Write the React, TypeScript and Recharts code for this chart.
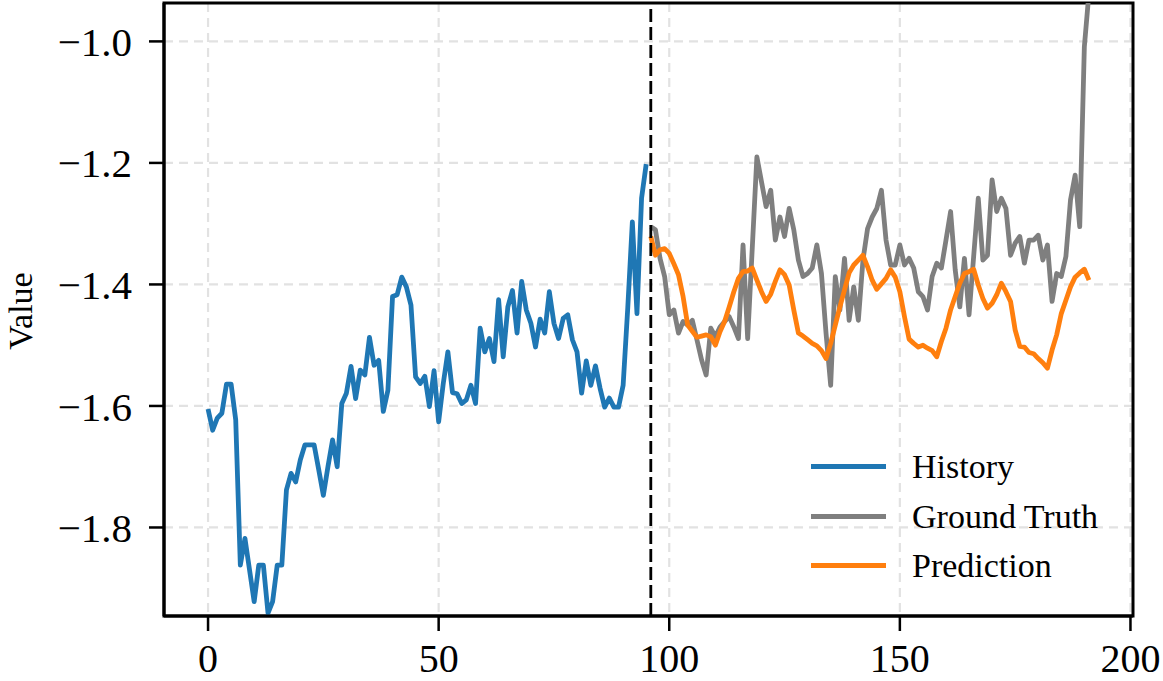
import {
  LineChart,
  Line,
  XAxis,
  YAxis,
  CartesianGrid,
  ReferenceLine,
  ReferenceArea,
  Legend,
} from "recharts";

const FONT = '"Liberation Serif", "Times New Roman", Times, serif';

// time steps 0..95 are history, 96..191 are the forecast horizon
const HISTORY_LEN = 96;

const history = [
  -1.605, -1.64, -1.62, -1.612, -1.564, -1.564, -1.623, -1.862, -1.818, -1.87,
  -1.922, -1.862, -1.862, -1.941, -1.922, -1.862, -1.862, -1.738, -1.711, -1.725,
  -1.689, -1.664, -1.664, -1.664, -1.705, -1.747, -1.7, -1.656, -1.7, -1.596,
  -1.579, -1.535, -1.588, -1.541, -1.549, -1.487, -1.533, -1.525, -1.609, -1.574,
  -1.42, -1.417, -1.388, -1.404, -1.434, -1.552, -1.563, -1.551, -1.601, -1.542,
  -1.626, -1.563, -1.511, -1.578, -1.58, -1.596, -1.59, -1.566, -1.596, -1.472,
  -1.511, -1.489, -1.527, -1.425, -1.519, -1.437, -1.41, -1.48, -1.395, -1.442,
  -1.464, -1.503, -1.457, -1.48, -1.412, -1.464, -1.489, -1.456, -1.45, -1.491,
  -1.511, -1.579, -1.526, -1.566, -1.534, -1.571, -1.602, -1.587, -1.602, -1.602,
  -1.566, -1.439, -1.297, -1.448, -1.258, -1.202,
];

const groundTruth = [
  -1.305, -1.31, -1.357, -1.387, -1.45, -1.442, -1.48, -1.461, -1.467, -1.459,
  -1.491, -1.524, -1.549, -1.472, -1.486, -1.47, -1.461, -1.453, -1.47, -1.489,
  -1.335, -1.489, -1.34, -1.19, -1.231, -1.272, -1.245, -1.327, -1.289, -1.321,
  -1.275, -1.31, -1.36, -1.387, -1.382, -1.373, -1.335, -1.382, -1.481, -1.566,
  -1.387, -1.442, -1.357, -1.459, -1.404, -1.459, -1.36, -1.308, -1.289, -1.275,
  -1.245, -1.327, -1.368, -1.368, -1.335, -1.368, -1.357, -1.373, -1.412, -1.42,
  -1.442, -1.387, -1.365, -1.373, -1.327, -1.28, -1.376, -1.437, -1.357, -1.45,
  -1.354, -1.258, -1.36, -1.352, -1.228, -1.28, -1.258, -1.275, -1.352, -1.332,
  -1.321, -1.365, -1.327, -1.327, -1.319, -1.36, -1.335, -1.428, -1.382, -1.387,
  -1.354, -1.261, -1.22, -1.305, -1.009, -0.92,
];

const prediction = [
  -1.321, -1.352, -1.343, -1.341, -1.349, -1.366, -1.384, -1.42, -1.467, -1.477,
  -1.487, -1.485, -1.483, -1.486, -1.5, -1.478, -1.461, -1.437, -1.412, -1.39,
  -1.379, -1.378, -1.373, -1.393, -1.412, -1.428, -1.416, -1.395, -1.376, -1.384,
  -1.401, -1.442, -1.48, -1.485, -1.491, -1.497, -1.501, -1.509, -1.522, -1.497,
  -1.467, -1.437, -1.409, -1.381, -1.368, -1.36, -1.352, -1.371, -1.393, -1.408,
  -1.399, -1.39, -1.376, -1.388, -1.412, -1.453, -1.49, -1.497, -1.503, -1.5,
  -1.505, -1.509, -1.519, -1.494, -1.472, -1.442, -1.42, -1.398, -1.382, -1.379,
  -1.375, -1.401, -1.423, -1.439, -1.431, -1.417, -1.398, -1.412, -1.428, -1.475,
  -1.502, -1.503, -1.512, -1.514, -1.522, -1.529, -1.538, -1.508, -1.483, -1.448,
  -1.426, -1.404, -1.388, -1.381, -1.375, -1.393,
];

const xTicks = [0, 50, 100, 150, 200];
const yTicks = [-1.8, -1.6, -1.4, -1.2, -1.0];
const X_DOMAIN = [-9.55, 200.55];
const Y_DOMAIN = [-1.9457, -0.9368];

const SERIES = [
  { key: "history", name: "History", color: "#1f77b4" },
  { key: "truth", name: "Ground Truth", color: "#7f7f7f" },
  { key: "pred", name: "Prediction", color: "#ff7f0e" },
];

const rows = Array.from({ length: HISTORY_LEN * 2 }, (_, t) => ({
  t,
  history: t < HISTORY_LEN ? history[t] : null,
  truth: t >= HISTORY_LEN ? groundTruth[t - HISTORY_LEN] : null,
  pred: t >= HISTORY_LEN ? prediction[t - HISTORY_LEN] : null,
}));

const fmtY = (v: number) => (v < 0 ? "\u2212" : "") + Math.abs(v).toFixed(1);

function LegendBox() {
  return (
    <div style={{ fontFamily: FONT, fontSize: 34, color: "#000" }}>
      {SERIES.map((s) => (
        <div
          key={s.key}
          style={{ display: "flex", alignItems: "center", height: 49.5 }}
        >
          <div style={{ width: 75, height: 5, background: s.color }} />
          <span style={{ marginLeft: 26, lineHeight: "49.5px", whiteSpace: "nowrap" }}>
            {s.name}
          </span>
        </div>
      ))}
    </div>
  );
}

function ValueLabel() {
  return (
    <text
      x={32}
      y={311}
      transform="rotate(-90, 32, 311)"
      textAnchor="middle"
      fontFamily={FONT}
      fontSize={34}
      fill="#000"
    >
      Value
    </text>
  );
}

export default function App() {
  return (
    <div style={{ position: "absolute", left: 0, top: 0, background: "#fff" }}>
      <LineChart
        width={1163}
        height={681}
        data={rows}
        margin={{ top: 3, right: 30, bottom: 0, left: 0 }}
      >
        <CartesianGrid
          stroke="#e2e2e2"
          strokeWidth={2.2}
          strokeDasharray="9 6"
        />
        <XAxis
          dataKey="t"
          type="number"
          domain={X_DOMAIN}
          ticks={xTicks}
          allowDataOverflow
          height={65}
          axisLine={{ stroke: "#000", strokeWidth: 3 }}
          tickLine={{ stroke: "#000", strokeWidth: 2.5 }}
          tickSize={15}
          tickMargin={13}
          tick={{ fill: "#000", fontSize: 40, fontFamily: FONT }}
        />
        <YAxis
          type="number"
          domain={Y_DOMAIN}
          ticks={yTicks}
          allowDataOverflow
          width={164}
          axisLine={{ stroke: "#000", strokeWidth: 3 }}
          tickLine={{ stroke: "#000", strokeWidth: 2.5 }}
          tickSize={15}
          tickMargin={17}
          tickFormatter={fmtY}
          tick={{ fill: "#000", fontSize: 41, fontFamily: FONT }}
          label={{ content: () => <ValueLabel /> }}
        />
        {SERIES.map((s) => (
          <Line
            key={s.key}
            dataKey={s.key}
            name={s.name}
            type="linear"
            stroke={s.color}
            strokeWidth={4.8}
            strokeLinejoin="round"
            dot={false}
            activeDot={false}
            isAnimationActive={false}
          />
        ))}
        <ReferenceLine
          x={HISTORY_LEN}
          stroke="#000"
          strokeWidth={2.8}
          strokeDasharray="13 5"
        />
        <ReferenceArea
          x1={X_DOMAIN[0]}
          x2={X_DOMAIN[1]}
          y1={Y_DOMAIN[0]}
          y2={Y_DOMAIN[1]}
          fill="none"
          fillOpacity={0}
          stroke="#000"
          strokeWidth={3}
        />
        <Legend
          layout="vertical"
          align="center"
          verticalAlign="middle"
          content={() => <LegendBox />}
          wrapperStyle={{ left: 811, top: 442, width: "auto", height: "auto" }}
        />
      </LineChart>
    </div>
  );
}
